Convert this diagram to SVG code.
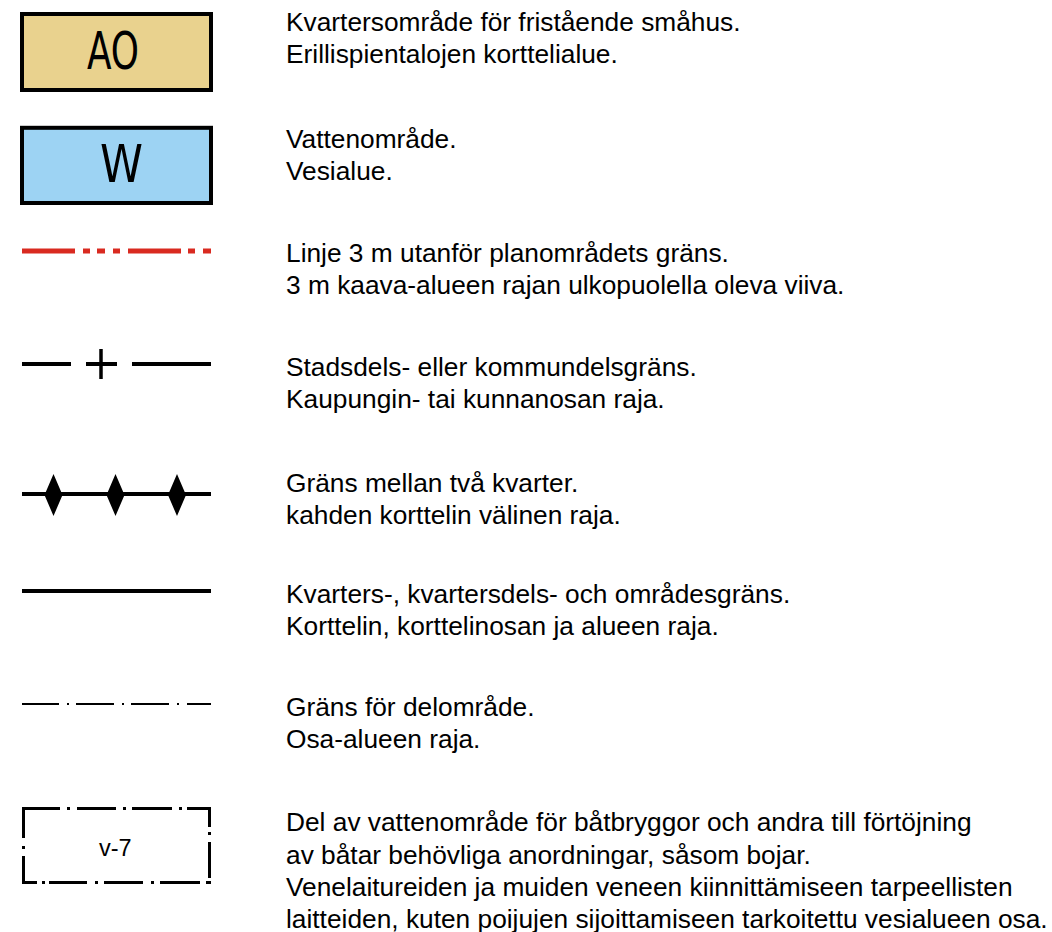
<svg xmlns="http://www.w3.org/2000/svg" width="1052" height="932" viewBox="0 0 1052 932">
<style>
.t{font-family:"Liberation Sans",Arial,sans-serif;font-size:26.3px;fill:#000}
.big{font-family:"DejaVu Sans Condensed","DejaVu Sans",sans-serif;font-size:51px;fill:#000}
.ln{fill:none;stroke:#000}
.red{fill:none;stroke:#d92a20;stroke-width:5}
</style>
<rect width="1052" height="932" fill="#fff"/>
<g id="ao">
<rect x="22" y="14" width="189" height="76" fill="#e9d28e" stroke="#000" stroke-width="4"/>
<text class="big" x="87" y="69" textLength="52" lengthAdjust="spacingAndGlyphs">AO</text>
<text class="t"><tspan x="286" y="31">Kvartersområde för fristående småhus.</tspan><tspan x="286" y="63">Erillispientalojen korttelialue.</tspan></text>
</g>
<g id="w">
<rect x="22" y="127.8" width="189" height="75.2" fill="#9dd3f3" stroke="#000" stroke-width="4"/>
<text class="big" x="100" y="182" textLength="43" lengthAdjust="spacingAndGlyphs">W</text>
<text class="t"><tspan x="286" y="148">Vattenområde.</tspan><tspan x="286" y="180">Vesialue.</tspan></text>
</g>
<g id="connectors">
<path class="red" d="M22 251H75M83 251H90M97 251H105M113 251H120M128 251H181M188 251H195M203 251H211"/>
<path class="ln" stroke-width="4" d="M22 364H71M86 364H117M132 364H211"/>
<path class="ln" stroke-width="3.5" d="M101 349V379"/>
<path class="ln" stroke-width="4" d="M22 494H211"/>
<path fill="#000" d="M53.5 474L62.5 495L53.5 516L44.5 495ZM115.5 474L124.5 495L115.5 516L106.5 495ZM177 474L186 495L177 516L168 495Z"/>
<path class="ln" stroke-width="4" d="M22 591H211"/>
<path class="ln" stroke-width="2" d="M22 704H59M67 704H69M76 704H114M122 704H124M131 704H169M177 704H179M187 704H211"/>
</g>
<g id="labels">
<text class="t"><tspan x="286" y="262">Linje 3 m utanför planområdets gräns.</tspan><tspan x="286" y="294">3 m kaava-alueen rajan ulkopuolella oleva viiva.</tspan></text>
<text class="t"><tspan x="286" y="376">Stadsdels- eller kommundelsgräns.</tspan><tspan x="286" y="408">Kaupungin- tai kunnanosan raja.</tspan></text>
<text class="t"><tspan x="286" y="492">Gräns mellan två kvarter.</tspan><tspan x="286" y="524">kahden korttelin välinen raja.</tspan></text>
<text class="t"><tspan x="286" y="603">Kvarters-, kvartersdels- och områdesgräns.</tspan><tspan x="286" y="635">Korttelin, korttelinosan ja alueen raja.</tspan></text>
<text class="t"><tspan x="286" y="716">Gräns för delområde.</tspan><tspan x="286" y="748">Osa-alueen raja.</tspan></text>
</g>
<g id="v7">
<path class="ln" stroke-width="3" d="M23.5 807V838M23.5 846V849M23.5 856V884M22 808.5H60M67 808.5H70M77 808.5H116M123 808.5H126M132 808.5H172M179 808.5H182M187 808.5H211M209.5 807V827M209.5 832V835M209.5 842V878M209.5 881V884M22 882.5H37M42 882.5H45M49 882.5H87M95 882.5H98M104 882.5H143M151 882.5H154M160 882.5H200M206 882.5H209"/>
<text x="99" y="856" style="font-family:'Liberation Sans',Arial,sans-serif;font-size:23.5px">v-7</text>
<text class="t"><tspan x="286" y="831">Del av vattenområde för båtbryggor och andra till förtöjning</tspan><tspan x="286" y="863.5">av båtar behövliga anordningar, såsom bojar.</tspan><tspan x="286" y="896">Venelaitureiden ja muiden veneen kiinnittämiseen tarpeellisten</tspan><tspan x="286" y="928">laitteiden, kuten poijujen sijoittamiseen tarkoitettu vesialueen osa.</tspan></text>
</g>
</svg>
